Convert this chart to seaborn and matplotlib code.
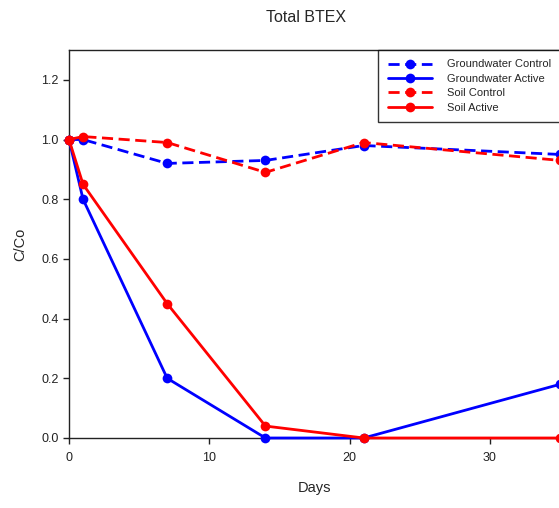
import matplotlib
matplotlib.use("Agg")
import matplotlib.pyplot as plt
import seaborn as sns
import pandas as pd

days = [0, 1, 7, 14, 21, 35]
gw_control = [1.0, 1.0, 0.92, 0.93, 0.98, 0.95]
gw_active = [1.0, 0.80, 0.20, 0.0, 0.0, 0.18]
soil_control = [1.0, 1.01, 0.99, 0.89, 0.99, 0.93]
soil_active = [1.0, 0.85, 0.45, 0.04, 0.0, 0.0]

series = [
    ("Groundwater Control", gw_control, "#0000ff", (0, (4, 2))),
    ("Groundwater Active", gw_active, "#0000ff", "-"),
    ("Soil Control", soil_control, "#ff0000", (0, (4, 2))),
    ("Soil Active", soil_active, "#ff0000", "-"),
]

sns.set_style("ticks")
plt.rcParams['font.family'] = ['Liberation Sans', 'DejaVu Sans']

fig = plt.figure(figsize=(5.59, 5.08), dpi=100)
ax = fig.add_axes([69/559, 70/508, 1.002 - 69/559, 388/508])

for name, vals, col, ls in series:
    df = pd.DataFrame({"Days": days, "C/Co": vals})
    sns.lineplot(data=df, x="Days", y="C/Co", ax=ax, color=col, linestyle=ls,
                 marker="o", markersize=7, markeredgewidth=0, linewidth=2,
                 label=name, clip_on=False, zorder=3)

ax.set_xlim(0, 35)
ax.set_ylim(0, 1.3)
ax.set_xticks([0, 10, 20, 30])
ax.set_yticks([0.0, 0.2, 0.4, 0.6, 0.8, 1.0, 1.2])
ax.set_yticklabels(["0.0", "0.2", "0.4", "0.6", "0.8", "1.0", "1.2"])
ax.tick_params(direction="out", length=4, width=1, labelsize=9, colors="#222222")
ax.tick_params(axis="x", pad=6)
for s in ax.spines.values():
    s.set_color("#222222")
    s.set_linewidth(1)
ax.set_xlabel("Days", fontsize=10.5, labelpad=12)
ax.set_ylabel("C/Co", fontsize=10.5, labelpad=10)
fig.text(306/559, 1 - 17/508, "Total BTEX", ha="center", va="center", fontsize=11.5)

leg = ax.legend(loc="upper right", fontsize=8, frameon=True, fancybox=False,
                edgecolor="black", borderpad=0.85, handlelength=4.0,
                handletextpad=1.3, labelspacing=0.4, borderaxespad=0.0)
leg.get_frame().set_linewidth(1)

fig.savefig("out.png", dpi=100)
